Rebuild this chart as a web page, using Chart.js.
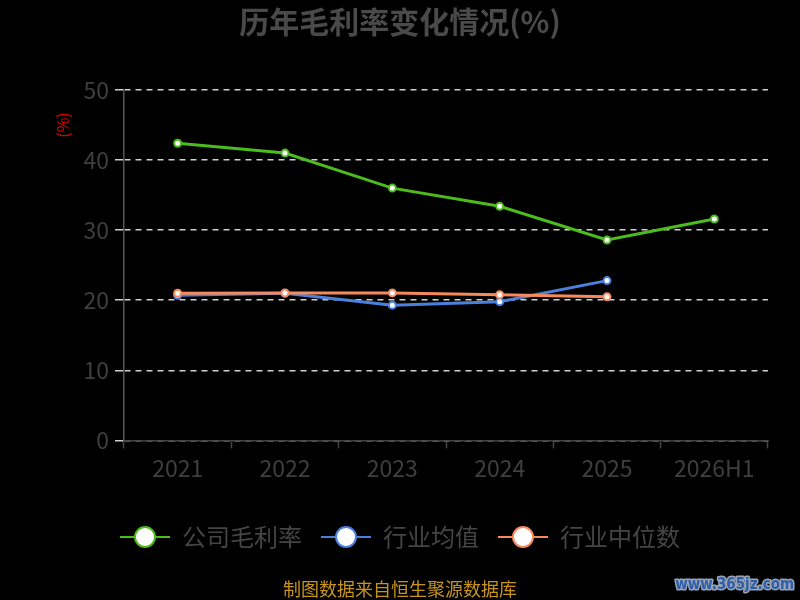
<!DOCTYPE html>
<html>
<head>
<meta charset="utf-8">
<script src="https://cdn.jsdelivr.net/npm/chart.js@4/dist/chart.umd.min.js"></script>
<style>
  html, body { margin: 0; padding: 0; background: #000; }
  #wrap { width: 800px; height: 600px; }
</style>
</head>
<body>
<div id="wrap"><canvas id="marginChart" width="800" height="600"></canvas></div>
<script>
const categories = ['2021', '2022', '2023', '2024', '2025', '2026H1'];
const companyMargin = [42.4, 41.0, 36.0, 33.4, 28.6, 31.6];
const industryMean = [20.7, 21.0, 19.3, 19.8, 22.8, null];
const industryMedian = [21.0, 21.05, 21.05, 20.8, 20.5, null];
const yTicks = [0, 10, 20, 30, 40, 50];

const FONT = "'Noto Sans CJK SC', 'Noto Sans', sans-serif";

// legend marker: short line with a big hollow circle
const legendMarker = (color) => {
  const c = document.createElement('canvas');
  c.width = 52;
  c.height = 26;
  const g = c.getContext('2d');
  g.strokeStyle = color;
  g.lineWidth = 2;
  g.beginPath();
  g.moveTo(1, 13);
  g.lineTo(51, 13);
  g.stroke();
  g.beginPath();
  g.arc(26, 13, 10, 0, Math.PI * 2);
  g.fillStyle = '#fff';
  g.fill();
  g.stroke();
  return c;
};

const series = (label, data, color, order) => ({
  label,
  data,
  order,
  borderColor: color,
  backgroundColor: '#fff',
  borderWidth: 3,
  tension: 0,
  pointRadius: 3.5,
  pointBorderWidth: 2,
  pointBackgroundColor: '#fff',
  pointBorderColor: color,
  pointStyle: 'circle',
  legendStyle: legendMarker(color)
});

const datasets = [
  series('公司毛利率', companyMargin, '#4cbb1c', 0),
  series('行业均值', industryMean, '#4a80de', 2),
  series('行业中位数', industryMedian, '#f7895c', 1)
];

const extras = {
  id: 'extras',
  beforeDraw(chart) {
    const ctx = chart.ctx;
    ctx.save();
    ctx.fillStyle = '#000';
    ctx.fillRect(0, 0, chart.width, chart.height);
    ctx.restore();
  },
  afterDraw(chart) {
    const ctx = chart.ctx;
    ctx.save();
    // unit label
    ctx.translate(63, 125);
    ctx.rotate(-Math.PI / 2);
    ctx.fillStyle = '#e00000';
    ctx.font = `16px ${FONT}`;
    ctx.textAlign = 'center';
    ctx.textBaseline = 'middle';
    ctx.fillText('(%)', 0, 0);
    ctx.restore();

    ctx.save();
    ctx.fillStyle = '#c8941e';
    ctx.font = `18px ${FONT}`;
    ctx.textAlign = 'center';
    ctx.textBaseline = 'middle';
    ctx.fillText('制图数据来自恒生聚源数据库', 400, 589);

    // watermark
    ctx.font = `bold 15px 'DejaVu Sans Condensed', 'DejaVu Sans', sans-serif`;
    ctx.textAlign = 'right';
    ctx.lineWidth = 3;
    ctx.lineJoin = 'round';
    ctx.strokeStyle = '#9aa4b6';
    ctx.strokeText('www.365jz.com', 794, 585);
    ctx.fillStyle = '#2f5ea8';
    ctx.fillText('www.365jz.com', 794, 585);
    ctx.restore();
  }
};

new Chart(document.getElementById('marginChart'), {
  type: 'line',
  data: { labels: categories, datasets },
  plugins: [extras],
  options: {
    responsive: false,
    animation: false,
    layout: { padding: { left: 32, right: 32, top: 0, bottom: 41 } },
    plugins: {
      title: {
        display: true,
        text: '历年毛利率变化情况(%)',
        color: '#4a4a4a',
        font: { family: FONT, size: 30, weight: 'bold' },
        padding: { top: 4, bottom: 50 }
      },
      legend: {
        position: 'bottom',
        labels: {
          usePointStyle: true,
          pointStyleWidth: 50,
          padding: 19,
          color: '#454545',
          font: { family: FONT, size: 24 },
          generateLabels(chart) {
            return chart.data.datasets.map((d, i) => ({
              text: d.label,
              pointStyle: d.legendStyle,
              fillStyle: '#fff',
              strokeStyle: d.borderColor,
              lineWidth: 0,
              fontColor: '#454545',
              hidden: !chart.isDatasetVisible(i),
              datasetIndex: i
            }));
          }
        }
      },
      tooltip: { enabled: false }
    },
    scales: {
      x: {
        offset: true,
        grid: {
          display: true,
          offset: true,
          drawOnChartArea: false,
          drawTicks: true,
          tickLength: 8,
          color: '#444',
          tickColor: '#444',
          tickWidth: 1.5
        },
        border: { display: true, color: '#444', width: 1.5 },
        ticks: {
          color: '#3f3f3f',
          padding: 6,
          font: { family: FONT, size: 23 }
        },
        afterFit(scale) {
          scale.height += 18;
        }
      },
      y: {
        min: 0,
        max: 50,
        afterBuildTicks(scale) {
          scale.ticks = yTicks.map(v => ({ value: v }));
        },
        afterFit(scale) {
          scale.width = 92;
        },
        grid: {
          color: '#d0d0d0',
          lineWidth: 1.5,
          drawTicks: true,
          tickLength: 9,
          tickColor: '#cfcfcf',
          tickWidth: 1.5,
          tickBorderDash: []
        },
        border: { display: true, color: '#555', width: 1.5, dash: [6, 5] },
        ticks: {
          color: '#3f3f3f',
          padding: 6,
          font: { family: FONT, size: 23 }
        }
      }
    }
  }
});
</script>
</body>
</html>
